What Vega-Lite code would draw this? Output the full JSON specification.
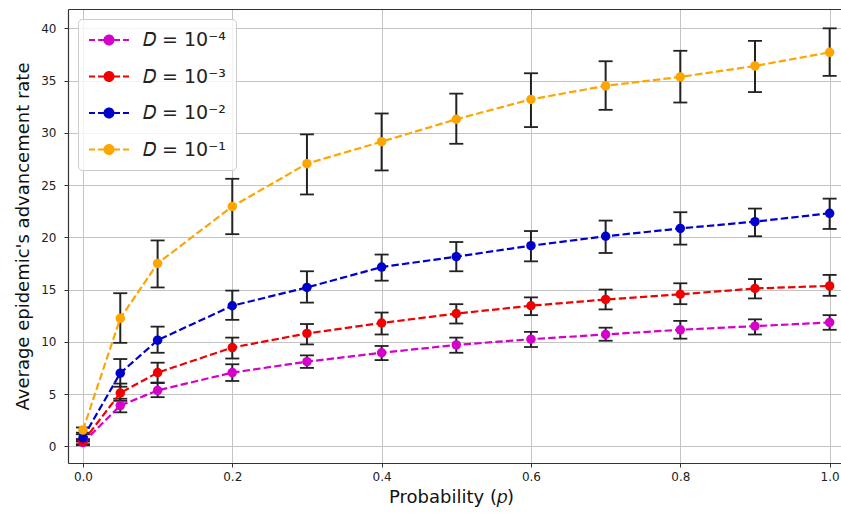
{
  "$schema": "https://vega.github.io/schema/vega-lite/v6.json",
  "width": 783,
  "height": 454,
  "autosize": {"type": "none"},
  "padding": {"left": 68, "top": 9, "right": -10, "bottom": 54},
  "config": {
    "font": "DejaVu Sans",
    "view": {"stroke": "transparent", "strokeWidth": 0},
    "axis": {
      "labelFont": "DejaVu Sans", "labelFontSize": 12, "labelColor": "#222",
      "titleFont": "DejaVu Sans", "titleFontSize": 18, "titleFontWeight": "normal", "titleColor": "#111",
      "domainColor": "#333", "domainWidth": 1.2, "tickColor": "#333", "tickSize": 4,
      "gridColor": "#c4c4c4", "gridWidth": 1
    },
    "legend": {
      "orient": "none", "legendX": 10, "legendY": 10, "title": null,
      "symbolType": "M-1,0H-0.4M-0.1,0H0.45M1.55,0H2.1M2.4,0H3M1.45,0A0.45,0.45,0,1,1,0.55,0A0.45,0.45,0,1,1,1.45,0Z",
      "symbolSize": 400, "symbolStrokeWidth": 2, "labelFontSize": 19, "labelOffset": 33,
      "labelFont": "DejaVu Sans", "labelColor": "#222", "rowPadding": 15.5, "padding": 10,
      "fillColor": "rgba(255,255,255,0.8)", "strokeColor": "#cccccc", "cornerRadius": 4, "symbolOpacity": 1
    }
  },
  "data": {"values": [
    {"D": "𝐷 = 10⁻⁴", "p": 0.0, "y": 0.35, "lo": 0.1, "hi": 0.6},
    {"D": "𝐷 = 10⁻⁴", "p": 0.05, "y": 3.9, "lo": 3.25, "hi": 4.55},
    {"D": "𝐷 = 10⁻⁴", "p": 0.1, "y": 5.35, "lo": 4.7, "hi": 6.05},
    {"D": "𝐷 = 10⁻⁴", "p": 0.2, "y": 7.05, "lo": 6.25, "hi": 7.85},
    {"D": "𝐷 = 10⁻⁴", "p": 0.3, "y": 8.1, "lo": 7.5, "hi": 8.7},
    {"D": "𝐷 = 10⁻⁴", "p": 0.4, "y": 8.95, "lo": 8.25, "hi": 9.6},
    {"D": "𝐷 = 10⁻⁴", "p": 0.5, "y": 9.7, "lo": 8.95, "hi": 10.4},
    {"D": "𝐷 = 10⁻⁴", "p": 0.6, "y": 10.25, "lo": 9.5, "hi": 10.95},
    {"D": "𝐷 = 10⁻⁴", "p": 0.7, "y": 10.7, "lo": 10.1, "hi": 11.35},
    {"D": "𝐷 = 10⁻⁴", "p": 0.8, "y": 11.15, "lo": 10.3, "hi": 12.0},
    {"D": "𝐷 = 10⁻⁴", "p": 0.9, "y": 11.5, "lo": 10.7, "hi": 12.15},
    {"D": "𝐷 = 10⁻⁴", "p": 1.0, "y": 11.85, "lo": 11.15, "hi": 12.55},
    {"D": "𝐷 = 10⁻³", "p": 0.0, "y": 0.45, "lo": 0.2, "hi": 0.7},
    {"D": "𝐷 = 10⁻³", "p": 0.05, "y": 5.1, "lo": 4.35, "hi": 6.0},
    {"D": "𝐷 = 10⁻³", "p": 0.1, "y": 7.05, "lo": 6.1, "hi": 8.0},
    {"D": "𝐷 = 10⁻³", "p": 0.2, "y": 9.45, "lo": 8.4, "hi": 10.4},
    {"D": "𝐷 = 10⁻³", "p": 0.3, "y": 10.8, "lo": 9.75, "hi": 11.7},
    {"D": "𝐷 = 10⁻³", "p": 0.4, "y": 11.8, "lo": 10.7, "hi": 12.8},
    {"D": "𝐷 = 10⁻³", "p": 0.5, "y": 12.7, "lo": 11.75, "hi": 13.6},
    {"D": "𝐷 = 10⁻³", "p": 0.6, "y": 13.45, "lo": 12.55, "hi": 14.25},
    {"D": "𝐷 = 10⁻³", "p": 0.7, "y": 14.05, "lo": 13.1, "hi": 15.0},
    {"D": "𝐷 = 10⁻³", "p": 0.8, "y": 14.55, "lo": 13.6, "hi": 15.6},
    {"D": "𝐷 = 10⁻³", "p": 0.9, "y": 15.1, "lo": 14.15, "hi": 16.0},
    {"D": "𝐷 = 10⁻³", "p": 1.0, "y": 15.35, "lo": 14.4, "hi": 16.4},
    {"D": "𝐷 = 10⁻²", "p": 0.0, "y": 0.8, "lo": 0.45, "hi": 1.15},
    {"D": "𝐷 = 10⁻²", "p": 0.05, "y": 7.0, "lo": 5.7, "hi": 8.35},
    {"D": "𝐷 = 10⁻²", "p": 0.1, "y": 10.15, "lo": 8.95, "hi": 11.45},
    {"D": "𝐷 = 10⁻²", "p": 0.2, "y": 13.45, "lo": 12.1, "hi": 14.9},
    {"D": "𝐷 = 10⁻²", "p": 0.3, "y": 15.2, "lo": 13.75, "hi": 16.75},
    {"D": "𝐷 = 10⁻²", "p": 0.4, "y": 17.15, "lo": 15.85, "hi": 18.35},
    {"D": "𝐷 = 10⁻²", "p": 0.5, "y": 18.15, "lo": 16.75, "hi": 19.55},
    {"D": "𝐷 = 10⁻²", "p": 0.6, "y": 19.2, "lo": 17.7, "hi": 20.6},
    {"D": "𝐷 = 10⁻²", "p": 0.7, "y": 20.1, "lo": 18.5, "hi": 21.6},
    {"D": "𝐷 = 10⁻²", "p": 0.8, "y": 20.85, "lo": 19.3, "hi": 22.4},
    {"D": "𝐷 = 10⁻²", "p": 0.9, "y": 21.5, "lo": 20.1, "hi": 22.75},
    {"D": "𝐷 = 10⁻²", "p": 1.0, "y": 22.3, "lo": 20.8, "hi": 23.7},
    {"D": "𝐷 = 10⁻¹", "p": 0.0, "y": 1.55, "lo": 1.3, "hi": 1.8},
    {"D": "𝐷 = 10⁻¹", "p": 0.05, "y": 12.25, "lo": 9.9, "hi": 14.65},
    {"D": "𝐷 = 10⁻¹", "p": 0.1, "y": 17.5, "lo": 15.2, "hi": 19.7},
    {"D": "𝐷 = 10⁻¹", "p": 0.2, "y": 22.95, "lo": 20.3, "hi": 25.6},
    {"D": "𝐷 = 10⁻¹", "p": 0.3, "y": 27.05, "lo": 24.1, "hi": 29.85},
    {"D": "𝐷 = 10⁻¹", "p": 0.4, "y": 29.15, "lo": 26.4, "hi": 31.85},
    {"D": "𝐷 = 10⁻¹", "p": 0.5, "y": 31.3, "lo": 28.95, "hi": 33.75},
    {"D": "𝐷 = 10⁻¹", "p": 0.6, "y": 33.2, "lo": 30.55, "hi": 35.7},
    {"D": "𝐷 = 10⁻¹", "p": 0.7, "y": 34.5, "lo": 32.2, "hi": 36.85},
    {"D": "𝐷 = 10⁻¹", "p": 0.8, "y": 35.35, "lo": 32.9, "hi": 37.85},
    {"D": "𝐷 = 10⁻¹", "p": 0.9, "y": 36.4, "lo": 33.9, "hi": 38.8},
    {"D": "𝐷 = 10⁻¹", "p": 1.0, "y": 37.7, "lo": 35.45, "hi": 40.0}
  ]},
  "layer": [
    {
      "mark": {"type": "rule", "strokeWidth": 2, "color": "#222"},
      "encoding": {
        "x": {"field": "p", "type": "quantitative", "scale": {"domain": [-0.02, 1.0286], "nice": false, "zero": false},
              "axis": {"values": [0, 0.2, 0.4, 0.6, 0.8, 1.0], "format": ".1f", "title": "Probability (𝑝)", "titleX": 383, "labelPadding": 4, "titlePadding": 6, "grid": true}},
        "y": {"field": "lo", "type": "quantitative", "scale": {"domain": [-1.6, 41.85], "nice": false, "zero": false},
              "axis": {"values": [0, 5, 10, 15, 20, 25, 30, 35, 40, 41.85], "title": "Average epidemic's advancement rate",
                       "labelExpr": "datum.value > 41 ? '' : datum.label",
                       "gridColor": {"condition": {"test": "datum.value > 41", "value": "#333"}, "value": "#c4c4c4"},
                       "gridWidth": {"condition": {"test": "datum.value > 41", "value": 1.2}, "value": 1},
                       "tickColor": {"condition": {"test": "datum.value > 41", "value": "transparent"}, "value": "#333"},
                       "labelPadding": 8, "titlePadding": 8, "grid": true}},
        "y2": {"field": "hi"}
      }
    },
    {
      "mark": {"type": "tick", "orient": "horizontal", "size": 14, "thickness": 1.8, "color": "#222", "opacity": 1},
      "encoding": {
        "x": {"field": "p", "type": "quantitative"},
        "y": {"field": "lo", "type": "quantitative"}
      }
    },
    {
      "mark": {"type": "tick", "orient": "horizontal", "size": 14, "thickness": 1.8, "color": "#222", "opacity": 1},
      "encoding": {
        "x": {"field": "p", "type": "quantitative"},
        "y": {"field": "hi", "type": "quantitative"}
      }
    },
    {
      "mark": {"type": "line", "strokeWidth": 2.2, "strokeDash": [7.4, 3.2]},
      "encoding": {
        "x": {"field": "p", "type": "quantitative"},
        "y": {"field": "y", "type": "quantitative"},
        "color": {"field": "D", "type": "nominal",
                  "scale": {"domain": ["𝐷 = 10⁻⁴", "𝐷 = 10⁻³", "𝐷 = 10⁻²", "𝐷 = 10⁻¹"], "range": ["#d600cc", "#f00000", "#0000cd", "#ffa500"]}}
      }
    },
    {
      "mark": {"type": "point", "filled": true, "size": 90, "opacity": 1},
      "encoding": {
        "x": {"field": "p", "type": "quantitative"},
        "y": {"field": "y", "type": "quantitative"},
        "color": {"field": "D", "type": "nominal",
                  "legend": {"encode": {"symbols": {"update": {"stroke": {"scale": "color", "field": "value"}, "fill": {"scale": "color", "field": "value"}, "strokeDash": {"value": [1, 0]}}}}}}
      }
    }
  ]
}
